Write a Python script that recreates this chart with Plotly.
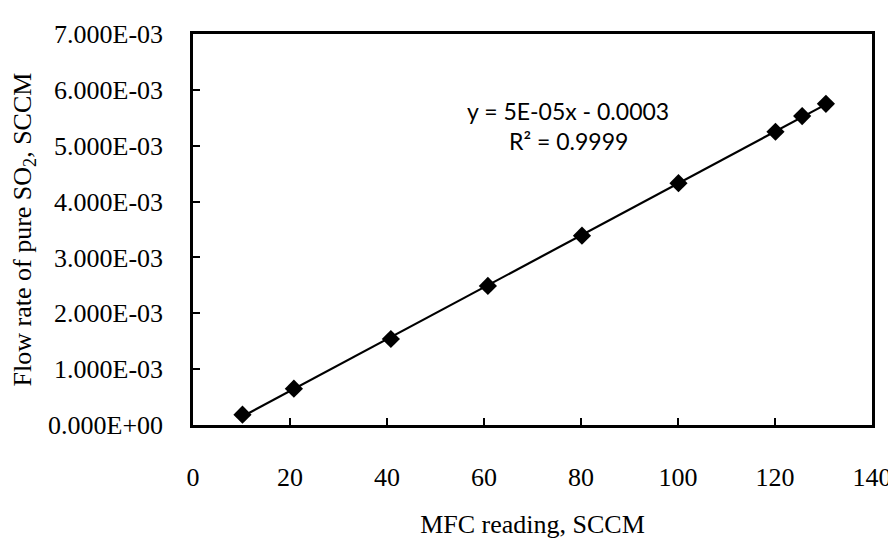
import numpy as np
import plotly.graph_objects as go

# Data
mfc_reading = [10.2, 20.8, 40.8, 60.8, 80.2, 100.1, 120.1, 125.6, 130.5]
so2_flow = [0.185e-3, 0.65e-3, 1.54e-3, 2.49e-3, 3.39e-3, 4.33e-3, 5.25e-3, 5.53e-3, 5.75e-3]

x_ticks = [0, 20, 40, 60, 80, 100, 120, 140]
y_ticks = [0, 1e-3, 2e-3, 3e-3, 4e-3, 5e-3, 6e-3, 7e-3]
y_tick_labels = ["0.000E+00", "1.000E-03", "2.000E-03", "3.000E-03",
                 "4.000E-03", "5.000E-03", "6.000E-03", "7.000E-03"]

eq_text = "y = 5E-05x - 0.0003"
r2_text = "R² = 0.9999"

# Linear trendline fitted to the data
slope, intercept = np.polyfit(mfc_reading, so2_flow, 1)
fit_x = [min(mfc_reading), max(mfc_reading)]
fit_y = [slope * v + intercept for v in fit_x]

serif = "Liberation Serif, Times New Roman, serif"
sans = "Lato, Carlito, Calibri, sans-serif"

fig = go.Figure()
fig.add_trace(go.Scatter(x=fit_x, y=fit_y, mode="lines",
                         line=dict(color="black", width=2.2),
                         showlegend=False, hoverinfo="skip"))
fig.add_trace(go.Scatter(x=mfc_reading, y=so2_flow, mode="markers",
                         marker=dict(symbol="diamond", size=14, color="black",
                                     line=dict(width=0)),
                         showlegend=False))

fig.update_layout(
    width=896, height=538,
    margin=dict(l=185, r=27, t=19, b=114),
    paper_bgcolor="white", plot_bgcolor="white",
    font=dict(family=serif, size=26, color="black"),
    xaxis=dict(range=[0, 140], tickvals=x_ticks, ticks="inside", ticklen=7,
               tickwidth=1.5, tickcolor="black", showline=True, linewidth=2.5,
               linecolor="black", mirror=True, showgrid=False, zeroline=False,
               tickfont=dict(family=serif, size=26), ticklabelstandoff=27,
               title=dict(text="MFC reading, SCCM", font=dict(family=serif, size=26),
                          standoff=24)),
    yaxis=dict(range=[0, 7e-3], tickvals=y_ticks, ticktext=y_tick_labels,
               ticks="inside", ticklen=7, tickwidth=1.5, tickcolor="black",
               showline=True, linewidth=2.5, linecolor="black", mirror=True,
               showgrid=False, zeroline=False,
               tickfont=dict(family=serif, size=26), ticklabelstandoff=22,
               title=dict(text="Flow rate of pure SO<sub>2</sub>, SCCM",
                          font=dict(family=serif, size=26), standoff=10)),
    annotations=[
        dict(x=77.4, y=5.63e-3, xref="x", yref="y", text=eq_text, showarrow=False,
             font=dict(family=sans, size=23, color="black"), xanchor="center", yanchor="middle"),
        dict(x=77.4, y=5.09e-3, xref="x", yref="y", text=r2_text, showarrow=False,
             font=dict(family=sans, size=23, color="black"), xanchor="center", yanchor="middle"),
    ],
)

fig.write_html("out.html")
